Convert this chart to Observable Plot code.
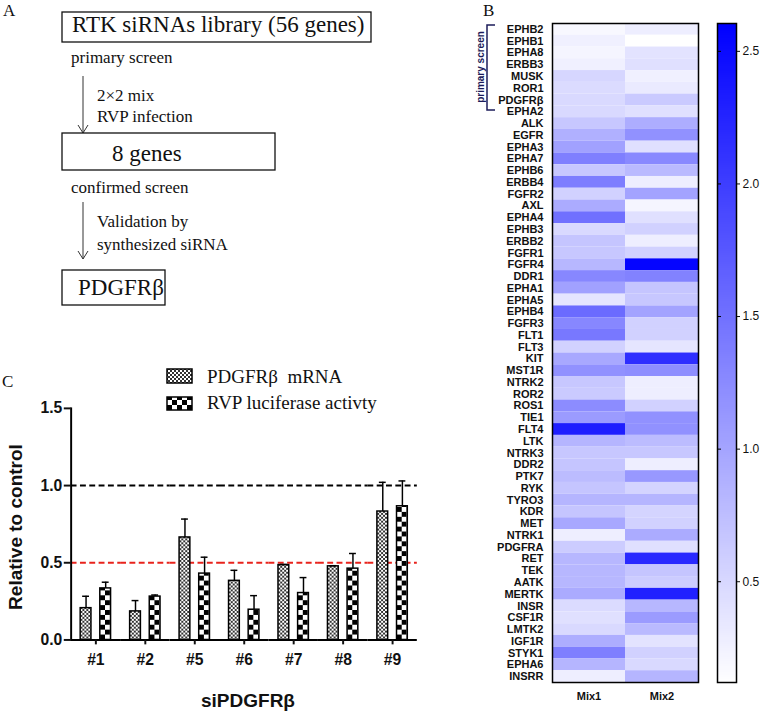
<!DOCTYPE html>
<html><head><meta charset="utf-8">
<script src="https://cdn.jsdelivr.net/npm/d3@7"></script>
<script src="https://cdn.jsdelivr.net/npm/@observablehq/plot@0.6"></script>
<style>
body{margin:0;background:#fff;}
#fig{position:relative;width:760px;height:716px;overflow:hidden;background:#fff;}
.abs{position:absolute;}
</style></head><body><div id="fig"></div>
<script>
// ---------- Panel B data ----------
const genes = ["EPHB2","EPHB1","EPHA8","ERBB3","MUSK","ROR1","PDGFRβ","EPHA2","ALK","EGFR","EPHA3","EPHA7","EPHB6","ERBB4","FGFR2","AXL","EPHA4","EPHB3","ERBB2","FGFR1","FGFR4","DDR1","EPHA1","EPHA5","EPHB4","FGFR3","FLT1","FLT3","KIT","MST1R","NTRK2","ROR2","ROS1","TIE1","FLT4","LTK","NTRK3","DDR2","PTK7","RYK","TYRO3","KDR","MET","NTRK1","PDGFRA","RET","TEK","AATK","MERTK","INSR","CSF1R","LMTK2","IGF1R","STYK1","EPHA6","INSRR"];
const mix1 = [0.19,0.27,0.22,0.27,0.52,0.47,0.49,0.49,0.67,0.89,1.04,1.37,0.67,1.39,0.57,0.94,1.51,0.49,0.69,0.67,0.82,1.29,1.04,0.37,1.56,1.29,1.44,0.57,0.97,1.19,0.67,0.64,1.24,1.09,2.31,0.84,0.67,0.69,0.77,0.69,0.84,0.69,0.97,0.29,0.62,0.82,0.82,0.82,0.94,0.47,0.42,0.49,0.92,1.37,0.84,0.29];
const mix2 = [0.29,0.12,0.39,0.42,0.27,0.32,0.64,0.42,0.92,1.19,0.42,1.27,0.79,0.29,1.02,0.22,0.42,0.57,0.29,0.57,2.56,1.34,0.69,0.67,1.02,0.57,0.57,0.37,2.16,1.22,0.29,0.29,0.57,1.19,1.19,0.77,0.67,0.29,1.12,0.54,0.84,0.54,0.57,0.94,0.42,2.21,0.69,0.62,2.29,0.82,1.09,0.79,0.39,0.57,0.49,0.84];
const mixes = ["Mix1","Mix2"];
const colorDomain = [0.12, 2.605];
const colorTicks = [0.5, 1.0, 1.5, 2.0, 2.5];

// ---------- Panel C data ----------
const groups = ["#1","#2","#5","#6","#7","#8","#9"];
const seriesNames = ["mRNA","Luc"];
const mrna = [0.206,0.185,0.664,0.383,0.485,0.477,0.832];
const mrnaErr = [0.077,0.070,0.119,0.068,0.004,0.004,0.189];
const luc = [0.334,0.281,0.430,0.196,0.304,0.462,0.866];
const lucErr = [0.040,0.010,0.106,0.091,0.100,0.098,0.164];
const refLines = [1.0, 0.5];
const yTicks = [0, 0.5, 1.0, 1.5];

const fig = document.getElementById("fig");
const sans = "'Liberation Sans', Arial, Helvetica, sans-serif";
const serif = "'Liberation Serif', 'Times New Roman', serif";

// ---------- Panel B: heatmap ----------
const cells = genes.flatMap((g, i) => [
  {gene: g, mix: mixes[0], value: mix1[i]},
  {gene: g, mix: mixes[1], value: mix2[i]}
]);
const colorScale = {type: "linear", domain: colorDomain, range: ["#ffffff", "#0000ff"], interpolate: "rgb"};

const heat = Plot.plot({
  width: 260, height: 716,
  marginLeft: 72, marginRight: 42, marginTop: 23, marginBottom: 34,
  x: {domain: mixes, padding: 0, round: false},
  y: {domain: genes, padding: 0, round: false},
  color: colorScale,
  style: {fontFamily: sans, fontWeight: "bold", fontSize: "11px", background: "transparent", color: "#111"},
  marks: [
    Plot.cell(cells, {x: "mix", y: "gene", fill: "value", inset: 0}),
    Plot.frame({stroke: "#000", strokeWidth: 1.5}),
    Plot.axisY({tickSize: 0, tickPadding: 9, label: null}),
    Plot.axisX({anchor: "bottom", tickSize: 0, tickPadding: 10, label: null})
  ]
});
heat.classList.add("abs");
heat.style.left = "480px"; heat.style.top = "0px";
fig.appendChild(heat);

// colour bar
const cbar = Plot.plot({
  width: 60, height: 716,
  marginLeft: 17, marginRight: 24, marginTop: 23, marginBottom: 34,
  x: {domain: [0, 1], axis: null},
  y: {domain: colorDomain},
  color: colorScale,
  style: {fontFamily: sans, fontSize: "12px", background: "transparent", color: "#111", overflow: "visible"},
  marks: [
    Plot.raster({x1: 0, x2: 1, y1: colorDomain[0], y2: colorDomain[1], width: 2, height: 300, fill: (x, y) => y}),
    Plot.tickY(colorTicks, {y: d => d, insetRight: 15, stroke: "#000"}),
    Plot.frame({stroke: "#000", strokeWidth: 1.5}),
    Plot.axisY(colorTicks, {anchor: "right", tickSize: 3, tickPadding: 3, tickFormat: d3.format(".1f"), label: null})
  ]
});
cbar.classList.add("abs");
cbar.style.left = "700px"; cbar.style.top = "0px";
fig.appendChild(cbar);

// ---------- Panel C: grouped bars ----------
const barsData = groups.flatMap((g, i) => [
  {group: g, series: seriesNames[0], value: mrna[i], err: mrnaErr[i]},
  {group: g, series: seriesNames[1], value: luc[i], err: lucErr[i]}
]);
const chartC = Plot.plot({
  width: 426, height: 366,
  marginLeft: 72, marginRight: 1.2, marginTop: 59, marginBottom: 71,
  fx: {domain: groups, padding: 0, round: false},
  x: {domain: seriesNames, paddingInner: 0.45, paddingOuter: 0.485, round: false, axis: null},
  y: {domain: [0, 1.5]},
  style: {fontFamily: sans, fontWeight: "bold", fontSize: "16px", background: "transparent", color: "#111"},
  marks: [
    Plot.ruleY([refLines[0]], {stroke: "#000", strokeWidth: 2, strokeDasharray: "6,3.5"}),
    Plot.ruleY([refLines[1]], {stroke: "#e8231c", strokeWidth: 2, strokeDasharray: "6,3.5"}),
    Plot.barY(barsData.filter(d => d.series === seriesNames[0]), {fx: "group", x: "series", y: "value", fill: "url(#patMRNA)", stroke: "#000", strokeWidth: 1.5}),
    Plot.barY(barsData.filter(d => d.series === seriesNames[1]), {fx: "group", x: "series", y: "value", fill: "url(#patLuc)", stroke: "#000", strokeWidth: 1.5}),
    Plot.ruleX(barsData, {fx: "group", x: "series", y1: "value", y2: d => d.value + d.err, stroke: "#000", strokeWidth: 1.5}),
    Plot.tickY(barsData, {fx: "group", x: "series", y: d => d.value + d.err, stroke: "#000", strokeWidth: 1.5, insetLeft: 2, insetRight: 2}),
    Plot.ruleY([0], {stroke: "#000", strokeWidth: 2}),
    Plot.frame({anchor: "left", facetAnchor: "left", stroke: "#000", strokeWidth: 2}),
    Plot.axisY(yTicks, {tickSize: 7, tickPadding: 2, tickFormat: d3.format(".1f"), label: null, strokeWidth: 2}),
    Plot.axisFx({anchor: "bottom", tickSize: 5, tickPadding: 9, label: null, strokeWidth: 2})
  ]
});
d3.select(chartC).insert("defs", ":first-child").html(`
  <pattern id="patMRNA" patternUnits="userSpaceOnUse" width="4" height="4">
    <rect width="4" height="4" fill="#fff"/>
    <rect x="0" y="0" width="2" height="2" fill="#333"/>
    <rect x="2" y="2" width="2" height="2" fill="#333"/>
  </pattern>
  <pattern id="patLuc" patternUnits="userSpaceOnUse" width="10" height="10" x="2" y="0">
    <rect width="10" height="10" fill="#fff"/>
    <rect x="0" y="0" width="5" height="5" fill="#000"/>
    <rect x="5" y="5" width="5" height="5" fill="#000"/>
  </pattern>`);
const wrapC = document.createElement("div");
wrapC.className = "abs";
Object.assign(wrapC.style, {left: "0px", top: "350px", width: "418px", height: "366px", overflow: "hidden"});
wrapC.appendChild(chartC);
fig.appendChild(wrapC);

// ---------- overlay: panel A schematic, panel letters, titles, legend ----------
const ov = d3.select(fig).append("svg").attr("class", "abs")
  .attr("width", 760).attr("height", 716)
  .style("left", "0px").style("top", "0px").style("pointer-events", "none");

function txt(s, x, y, size, family, opts = {}) {
  const t = ov.append("text").attr("x", x).attr("y", y).text(s)
    .attr("font-family", family).attr("font-size", size).attr("fill", opts.fill || "#111");
  if (opts.weight) t.attr("font-weight", opts.weight);
  if (opts.anchor) t.attr("text-anchor", opts.anchor);
  if (opts.transform) t.attr("transform", opts.transform).attr("x", 0).attr("y", 0);
  return t;
}
function box(x, y, w, h) {
  ov.append("rect").attr("x", x).attr("y", y).attr("width", w).attr("height", h)
    .attr("fill", "none").attr("stroke", "#111").attr("stroke-width", 1.3);
}
function arrow(x, y1, y2) {
  ov.append("path").attr("d", `M${x},${y1}V${y2}M${x - 5},${y2 - 8}L${x},${y2}L${x + 5},${y2 - 8}`)
    .attr("fill", "none").attr("stroke", "#333").attr("stroke-width", 1);
}

// Panel A
txt("A", 3, 16, 17, serif);
box(62, 12, 309, 30);
txt("RTK siRNAs library (56 genes)", 72, 32, 23, serif);
txt("primary screen", 71, 63, 17, serif);
arrow(83, 76, 133);
txt("2×2 mix", 97, 101, 17, serif);
txt("RVP infection", 97, 122, 17, serif);
box(62, 133, 213, 37);
txt("8 genes", 112, 161, 23, serif);
txt("confirmed screen", 71, 193, 17, serif);
arrow(83, 202, 259);
txt("Validation by", 97, 227, 17, serif);
txt("synthesized siRNA", 97, 250, 17, serif);
box(62, 270, 103, 35);
txt("PDGFRβ", 78, 295, 23, serif);

// Panel B annotations
txt("B", 483, 16, 17, serif);
ov.append("path").attr("d", "M495,25H487V110H495").attr("fill", "none")
  .attr("stroke", "#1c1c5a").attr("stroke-width", 1.5);
txt("primary screen", 0, 0, 10, sans, {weight: "bold", anchor: "middle", fill: "#1c1c5a", transform: "translate(484,67) rotate(-90)"});

// Panel C annotations
txt("C", 2, 387, 17, serif);
ov.append("rect").attr("x", 167).attr("y", 369).attr("width", 25).attr("height", 14)
  .attr("fill", "url(#patMRNA)").attr("stroke", "#000").attr("stroke-width", 1.5);
ov.append("rect").attr("x", 167).attr("y", 397).attr("width", 25).attr("height", 13)
  .attr("fill", "url(#patLuc)").attr("stroke", "#000").attr("stroke-width", 1.5);
txt("PDGFRβ  mRNA", 207, 383, 19, serif).style("white-space", "pre");
txt("RVP luciferase activty", 207, 409, 19, serif);
txt("Relative to control", 0, 0, 19, sans, {weight: "bold", anchor: "middle", transform: "translate(22,527) rotate(-90)"});
txt("siPDGFRβ", 248, 707, 19, sans, {weight: "bold", anchor: "middle"});
</script>
</body></html>
